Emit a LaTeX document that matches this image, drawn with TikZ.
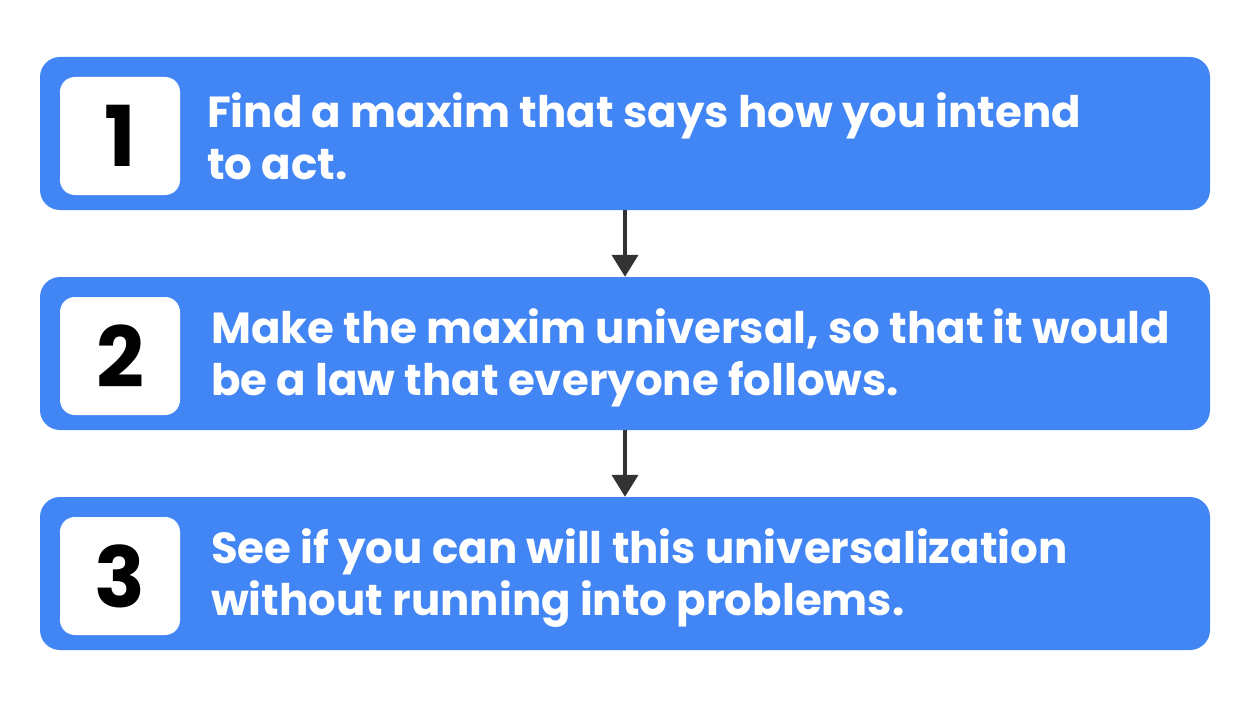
\documentclass[tikz,border=0pt]{standalone}
\usepackage{fontspec}
\setmainfont{Poppins}
\usetikzlibrary{arrows.meta}
\definecolor{boxblue}{HTML}{4285F4}
\definecolor{arr}{HTML}{333333}
\tikzset{
 stepbox/.style={fill=boxblue,rounded corners=20pt,minimum width=1170pt,minimum height=153pt,inner sep=0pt},
 numbox/.style={fill=white,rounded corners=15pt,minimum width=120pt,minimum height=118pt,inner sep=0pt,font=\fontsize{84}{84}\selectfont\bfseries},
 txt/.style={anchor=west,text=white,align=left,font=\fontsize{43.5}{52}\selectfont\bfseries,inner sep=0pt},
 conn/.style={draw=arr,line width=4pt,-{Triangle[length=22pt,width=26pt]}}
}
\begin{document}
\begin{tikzpicture}[x=1pt,y=-1pt]
\useasboundingbox (0,0) rectangle (1250,706);
\node[stepbox] (b1) at (625,133.5) {};
\node[stepbox] (b2) at (625,353.5) {};
\node[stepbox] (b3) at (625,573.5) {};
\node[numbox] (n1) at (120,136) {1};
\node[numbox] (n2) at (120,356) {2};
\node[numbox] (n3) at (120,576) {3};
\node[txt] (t1) at (207,136) {Find a maxim that says how you intend\\to act.};
\node[txt] (t2) at (211,358) {Make the maxim universal, so that it would\\be a law that everyone follows.};
\node[txt] (t3) at (211,578) {See if you can will this universalization\\without running into problems.};
\draw[conn] (b1.south) -- (b2.north);
\draw[conn] (b2.south) -- (b3.north);
\end{tikzpicture}
\end{document}
